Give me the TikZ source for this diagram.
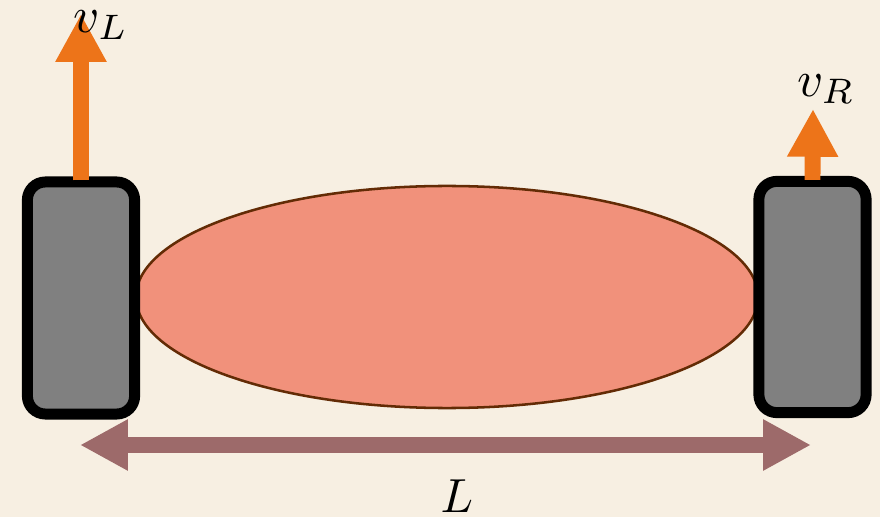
\documentclass[tikz,border=0pt]{standalone}
\usepackage{amsmath}
\usepackage{graphicx}
\usepackage{tikz}
\usetikzlibrary{shapes.geometric, positioning, arrows.meta}
\definecolor{bgcream}{RGB}{247, 239, 226}
\definecolor{wheelgray}{RGB}{128, 128, 128}
\definecolor{bodysalmon}{RGB}{241, 145, 123}
\definecolor{bodyedge}{RGB}{99, 43, 5}
\definecolor{velorange}{RGB}{237, 116, 25}
\definecolor{baseline}{RGB}{157, 106, 106}
\tikzset{
  wheel/.style={rectangle, rounded corners=0.45cm, minimum width=2.68cm, minimum height=5.8cm, draw=black, line width=7.8pt, fill=wheelgray},
  body/.style={ellipse, minimum width=15.55cm, minimum height=5.55cm, inner sep=0pt, draw=bodyedge, line width=1.8pt, fill=bodysalmon},
  velarrow/.style={draw=velorange, line width=11.3pt, -{Triangle[width=34pt, length=34pt]}},
  widtharrow/.style={draw=baseline, line width=11.3pt, {Triangle[width=34pt, length=34pt]}-{Triangle[width=34pt, length=34pt]}},
  lbl/.style={inner sep=0pt, text=black}
}

\begin{document}
\begin{tikzpicture}[x=0.025cm, y=-0.025cm]
        % Fondo
        \fill[bgcream] (0,0) rectangle (880,517);
        \useasboundingbox (0,0) rectangle (880,517);

        % Cuerpo del robot y ruedas
        \node (body) [body] at (447,297) {};
        \node (wl) [wheel] at (81,298) {};
        \node (wr) [wheel, minimum height=5.78cm] at (812.5,297) {};

        % Velocidades de las ruedas
        \coordinate (vLtip) at (81,14);
        \coordinate (vRtip) at (813,109);
        \draw [velarrow] ([yshift=-2.8pt]wl.north) -- (vLtip);
        \draw [velarrow] ([yshift=-2.8pt]wr.north) -- (vRtip);
        \node (vL) [lbl] at (101,25) {\scalebox{3.6}{$v_L$}};
        \node (vR) [lbl] at (826,89) {\scalebox{3.6}{$v_R$}};

        % Distancia entre ruedas
        \coordinate (Lleft) at (80,445);
        \coordinate (Lright) at (811,445);
        \draw [widtharrow] (Lleft) -- (Lright);
        \node (Llbl) [lbl] at (457,496) {\scalebox{3.4}{$L$}};
    \end{tikzpicture}
\end{document}
